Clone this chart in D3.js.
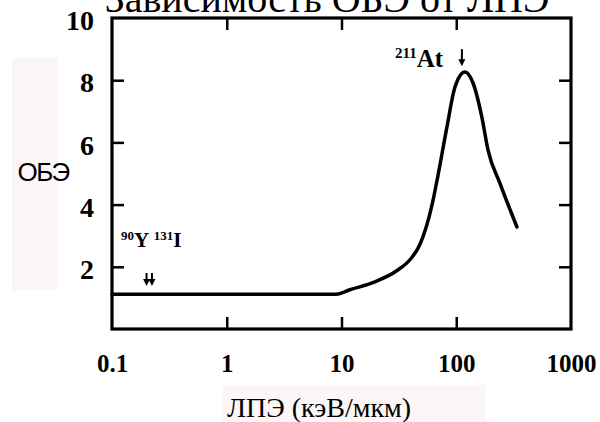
<!DOCTYPE html>
<html>
<head>
<meta charset="utf-8">
<script src="https://cdn.jsdelivr.net/npm/d3@7"></script>
<style>
  body { margin: 0; background: #fff; }
  svg { display: block; }
</style>
</head>
<body>
<div id="chart"></div>
<script>
// Curve: LET (keV/um) vs RBE
const letValues = [0.1, 9, 12, 19, 30.5, 40, 48, 55, 62, 69, 83, 97.5, 119, 140, 167, 189, 240, 338];
const rbeValues = [1.12, 1.12, 1.27, 1.5, 1.88, 2.25, 2.7, 3.3, 4.05, 4.9, 6.5, 7.78, 8.26, 7.91, 6.82, 5.76, 4.69, 3.28];

// Axis ticks
const xTickLabels = [0.1, 1, 10, 100, 1000];
const xInnerTicks = [1, 10, 100];
const yTickLabels = [2, 4, 6, 8, 10];
const yInnerTicks = [2, 4, 6, 8];

// Isotope arrows (LET position, arrow top, arrow tip)
const isotopeArrows = [
    {pos: 0.2, from: 1.8, to: 1.38},
    {pos: 0.223, from: 1.8, to: 1.38},
    {pos: 112, from: 9.0, to: 8.45}
];

const width = 600, height = 422;
const plot = {left: 112, right: 571, top: 18, bottom: 329};

const svg = d3.select("#chart")
    .append("svg")
    .attr("width", width)
    .attr("height", height);

const x = d3.scaleLog()
    .domain([0.1, 1000])
    .range([plot.left, plot.right]);

const y = d3.scaleLinear()
    .domain([0, 10])
    .range([plot.bottom, plot.top]);

const serif = "Liberation Serif, Times New Roman, serif";

// faint background patches behind the axis titles (scan artefact)
svg.append("rect")
    .attr("x", 12).attr("y", 58)
    .attr("width", 46).attr("height", 232)
    .attr("fill", "#fcf5f5");

svg.append("rect")
    .attr("x", 223).attr("y", 385)
    .attr("width", 262).attr("height", 37)
    .attr("fill", "#fcf6f6");

// Title, cut off at the top like in the scan
svg.append("text")
    .attr("x", 327)
    .attr("y", 12)
    .attr("text-anchor", "middle")
    .attr("font-family", serif)
    .attr("font-size", "40px")
    .text("Зависимость ОБЭ от ЛПЭ");

// Inner ticks on all four sides
const tickStyle = g => {
    g.select(".domain").remove();
    g.selectAll("line")
        .attr("stroke", "#000")
        .attr("stroke-width", 2.5);
};

svg.append("g")
    .attr("transform", `translate(0, ${plot.bottom})`)
    .call(d3.axisBottom(x).tickValues(xInnerTicks).tickSize(-12).tickFormat(""))
    .call(tickStyle);

svg.append("g")
    .attr("transform", `translate(0, ${plot.top})`)
    .call(d3.axisTop(x).tickValues(xInnerTicks).tickSize(-12).tickFormat(""))
    .call(tickStyle);

svg.append("g")
    .attr("transform", `translate(${plot.left}, 0)`)
    .call(d3.axisLeft(y).tickValues(yInnerTicks).tickSize(-12).tickFormat(""))
    .call(tickStyle);

svg.append("g")
    .attr("transform", `translate(${plot.right}, 0)`)
    .call(d3.axisRight(y).tickValues(yInnerTicks).tickSize(-12).tickFormat(""))
    .call(tickStyle);

// Tick labels
const xLabels = svg.append("g")
    .attr("transform", `translate(0, ${plot.bottom})`)
    .call(d3.axisBottom(x).tickValues(xTickLabels).tickSize(0).tickPadding(25)
        .tickFormat(d => String(d)));
xLabels.select(".domain").remove();
xLabels.selectAll("text")
    .attr("font-family", serif)
    .attr("font-weight", "bold")
    .attr("font-size", "25px")
    .attr("fill", "#000");

const yLabels = svg.append("g")
    .attr("transform", `translate(${plot.left}, 0)`)
    .call(d3.axisLeft(y).tickValues(yTickLabels).tickSize(0).tickPadding(18));
yLabels.select(".domain").remove();
yLabels.selectAll("text")
    .attr("font-family", serif)
    .attr("font-weight", "bold")
    .attr("font-size", "28px")
    .attr("dy", "0.42em")
    .attr("fill", "#000");

// Frame
svg.append("rect")
    .attr("x", plot.left)
    .attr("y", plot.top)
    .attr("width", plot.right - plot.left)
    .attr("height", plot.bottom - plot.top)
    .attr("fill", "none")
    .attr("stroke", "#000")
    .attr("stroke-width", 3.2);

// Curve
const points = letValues.map((d, i) => [d, rbeValues[i]]);
const line = d3.line()
    .x(d => x(d[0]))
    .y(d => y(d[1]))
    .curve(d3.curveMonotoneX);

svg.append("path")
    .datum(points)
    .attr("d", line)
    .attr("fill", "none")
    .attr("stroke", "#000")
    .attr("stroke-width", 3.5)
    .attr("stroke-linejoin", "round")
    .attr("stroke-linecap", "round");

// Arrows
const arrows = svg.selectAll(".arrow")
    .data(isotopeArrows)
    .enter()
    .append("g")
    .attr("class", "arrow");

arrows.append("line")
    .attr("x1", d => x(d.pos)).attr("x2", d => x(d.pos))
    .attr("y1", d => y(d.from)).attr("y2", d => y(d.to) - 5)
    .attr("stroke", "#000")
    .attr("stroke-width", 2);

arrows.append("path")
    .attr("d", d => {
        const cx = x(d.pos), cy = y(d.to);
        return `M${cx - 3.5},${cy - 7}L${cx + 3.5},${cy - 7}L${cx},${cy}Z`;
    })
    .attr("fill", "#000");

// Isotope labels
const yIsoLabel = svg.append("text")
    .attr("x", x(0.12))
    .attr("y", y(2.64))
    .attr("font-family", serif)
    .attr("font-weight", "bold")
    .attr("font-size", "21px");
yIsoLabel.append("tspan").attr("font-size", "13px").attr("dy", "-7").text("90");
yIsoLabel.append("tspan").attr("dy", "7").text("Y ");
yIsoLabel.append("tspan").attr("font-size", "13px").attr("dy", "-7").text("131");
yIsoLabel.append("tspan").attr("dy", "7").text("I");

const atLabel = svg.append("text")
    .attr("x", x(29.3))
    .attr("y", y(8.43))
    .attr("font-family", serif)
    .attr("font-weight", "bold")
    .attr("font-size", "25px");
atLabel.append("tspan").attr("font-size", "15px").attr("dy", "-9").text("211");
atLabel.append("tspan").attr("dy", "9").text("At");

// Axis titles
svg.append("text")
    .attr("x", 43)
    .attr("y", 181)
    .attr("text-anchor", "middle")
    .attr("font-family", "Liberation Sans, Arial, sans-serif")
    .attr("font-size", "26px")
    .attr("letter-spacing", "-1.5")
    .text("ОБЭ");

svg.append("text")
    .attr("x", 319)
    .attr("y", 417)
    .attr("text-anchor", "middle")
    .attr("font-family", serif)
    .attr("font-size", "28px")
    .text("ЛПЭ (кэВ/мкм)");
</script>
</body>
</html>
